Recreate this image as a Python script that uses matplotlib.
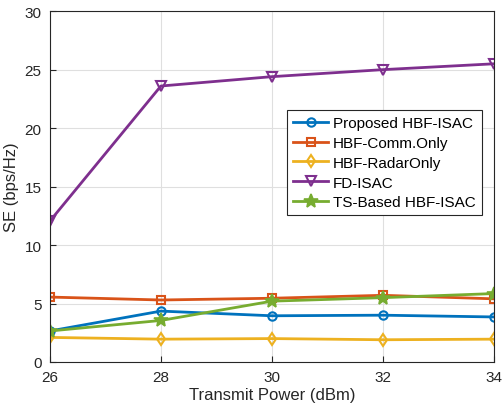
import matplotlib.pyplot as plt

power = [26, 28, 30, 32, 34]
proposed = [2.65, 4.35, 3.95, 4.0, 3.85]
comm_only = [5.55, 5.3, 5.45, 5.7, 5.4]
radar_only = [2.1, 1.95, 2.0, 1.9, 1.95]
fd_isac = [12.05, 23.6, 24.4, 25.0, 25.5]
ts_based = [2.65, 3.55, 5.2, 5.5, 5.85]

plt.rcParams['font.family'] = ['Liberation Sans', 'DejaVu Sans']
fig = plt.figure(figsize=(5.04, 4.06), dpi=100)
ax = fig.add_axes([0.099, 0.106, 0.881, 0.864])

ax.plot(power, proposed, '-o', color='#0072BD', lw=2, ms=6, mfc='none', mew=1.5, label='Proposed HBF-ISAC')
ax.plot(power, comm_only, '-s', color='#D95319', lw=2, ms=6, mfc='none', mew=1.5, label='HBF-Comm.Only')
ax.plot(power, radar_only, '-d', color='#EDB120', lw=2, ms=6, mfc='none', mew=1.5, label='HBF-RadarOnly')
ax.plot(power, fd_isac, '-v', color='#7E2F8E', lw=2, ms=7, mfc='none', mew=1.5, label='FD-ISAC')
ax.plot(power, ts_based, '-*', color='#77AC30', lw=2, ms=10, mew=1.2, label='TS-Based HBF-ISAC')

ax.set_xlim(26, 34)
ax.set_ylim(0, 30)
ax.set_xticks(power)
ax.set_yticks([0, 5, 10, 15, 20, 25, 30])
ax.grid(True, color='#dfdfdf', lw=0.8)
ax.set_axisbelow(True)
for s in ax.spines.values():
    s.set_color('#262626')
    s.set_linewidth(0.8)
ax.tick_params(direction='in', labelsize=11, colors='#262626', length=4, pad=6)
ax.set_xlabel('Transmit Power (dBm)', fontsize=12, color='#262626', labelpad=2)
ax.set_ylabel('SE (bps/Hz)', fontsize=12, color='#262626', labelpad=4)

leg = ax.legend(loc='upper right', bbox_to_anchor=(0.99, 0.74), fontsize=11,
                fancybox=False, edgecolor='#262626', framealpha=1,
                handlelength=2.3, borderpad=0.4, labelspacing=0.38, handletextpad=0.3)
leg.get_frame().set_linewidth(0.8)

fig.savefig('out.png', dpi=100)
